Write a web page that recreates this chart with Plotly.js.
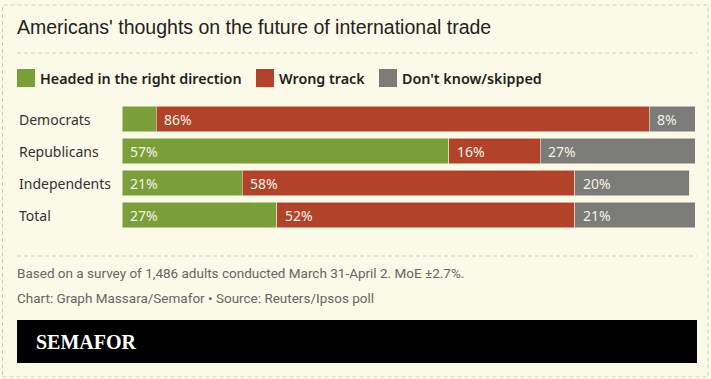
<!DOCTYPE html>
<html><head><meta charset="utf-8">
<script src="https://cdn.plot.ly/plotly-3.0.1.min.js"></script>
<style>html,body{margin:0;padding:0;background:#fbf9e7;}#c{width:711px;height:379px;}</style>
</head><body><div id="c"></div>
<script>
const categories = ["Democrats", "Republicans", "Independents", "Total"];
const rightDirection = [6, 57, 21, 27];
const wrongTrack = [86, 16, 58, 52];
const dontKnow = [8, 27, 20, 21];
const seriesNames = ["Headed in the right direction", "Wrong track", "Don't know/skipped"];
const colors = ["#7a9f3a", "#b1432b", "#7b7b79"];
const titleText = "Americans' thoughts on the future of international trade";
const noteText = "Based on a survey of 1,486 adults conducted March 31-April 2. MoE ±2.7%.";
const sourceText = "Chart: Graph Massara/Semafor • Source: Reuters/Ipsos poll";
const brand = "SEMAFOR";

const W = 711, H = 379;
const L = 122, R = 16, T = 103, B = 148;
const pw = W - L - R, ph = H - T - B;
const px = x => (x - L) / pw;
const py = y => (H - B - y) / ph;

const series = [rightDirection, wrongTrack, dontKnow];
const traces = series.map((vals, i) => ({
  type: 'bar', orientation: 'h', y: categories, x: vals, name: seriesNames[i],
  marker: {color: colors[i], line: {color: '#e9e6d2', width: 0.6}},
  hoverinfo: 'skip', showlegend: false
}));

const annotations = [];
const shapes = [];
const labelFont = {family: "Noto Sans, sans-serif", size: 14, color: "#f4f2e2"};
categories.forEach((cat, ci) => {
  let cum = 0;
  series.forEach((vals, si) => {
    const v = vals[ci];
    if (v >= 8) {
      annotations.push({x: cum, y: cat, xref: 'x', yref: 'y', text: v + '%', showarrow: false,
        xanchor: 'left', xshift: 6, font: labelFont});
    }
    cum += v;
  });
  annotations.push({x: px(17), y: cat, xref: 'paper', yref: 'y', text: cat, showarrow: false,
    xanchor: 'left', font: {family: "Noto Sans, sans-serif", size: 14, color: "#333"}});
});

// title
annotations.push({x: px(15), y: py(27), xref: 'paper', yref: 'paper', text: titleText, showarrow: false,
  xanchor: 'left', yanchor: 'middle', font: {family: "Liberation Sans, Arial, sans-serif", size: 19.5, color: "#222"}});

// legend
const legX = [17, 256, 379];
seriesNames.forEach((n, i) => {
  shapes.push({type: 'rect', xref: 'paper', yref: 'paper', x0: px(legX[i]), x1: px(legX[i] + 18),
    y0: py(87), y1: py(69), fillcolor: colors[i], line: {width: 0}});
  annotations.push({x: px(legX[i] + 21), y: py(78), xref: 'paper', yref: 'paper', text: n, showarrow: false,
    xanchor: 'left', yanchor: 'middle', font: {family: "Noto Sans, sans-serif", size: 14.3, color: "#222", weight: 600}});
});

// notes
annotations.push({x: px(15), y: py(273), xref: 'paper', yref: 'paper', text: noteText, showarrow: false,
  xanchor: 'left', yanchor: 'middle', font: {family: "Roboto, sans-serif", size: 13.5, color: "#666"}});
annotations.push({x: px(15), y: py(298), xref: 'paper', yref: 'paper', text: sourceText, showarrow: false,
  xanchor: 'left', yanchor: 'middle', font: {family: "Roboto, sans-serif", size: 13.5, color: "#666"}});

// brand bar
shapes.push({type: 'rect', xref: 'paper', yref: 'paper', x0: px(17), x1: px(697), y0: py(363), y1: py(320),
  fillcolor: '#000', line: {width: 0}, layer: 'below'});
annotations.push({x: px(34), y: py(342), xref: 'paper', yref: 'paper', text: brand, showarrow: false,
  xanchor: 'left', yanchor: 'middle', font: {family: "Liberation Serif, serif", size: 20, color: "#fff", weight: 700}});

// dashed lines
const dash = {color: '#cfcdbd', width: 1, dash: '4px,3px'};
shapes.push({type: 'line', xref: 'paper', yref: 'paper', x0: px(17), x1: px(697), y0: py(53), y1: py(53), line: dash});
shapes.push({type: 'line', xref: 'paper', yref: 'paper', x0: px(17), x1: px(697), y0: py(256), y1: py(256), line: dash});
shapes.push({type: 'rect', xref: 'paper', yref: 'paper', x0: px(2.5), x1: px(708), y0: py(377), y1: py(5), line: dash, layer: 'below'});

Plotly.newPlot('c', traces, {
  width: W, height: H, barmode: 'stack', bargap: 0.19,
  paper_bgcolor: '#fbf9e7', plot_bgcolor: '#fbf9e7',
  margin: {l: L, r: R, t: T, b: B, pad: 0},
  xaxis: {range: [0, 100], visible: false, fixedrange: true},
  yaxis: {autorange: 'reversed', showticklabels: false, showgrid: false, zeroline: false, showline: false, ticks: ''},
  annotations: annotations, shapes: shapes, showlegend: false
}, {displayModeBar: false, staticPlot: true});
</script></body></html>
